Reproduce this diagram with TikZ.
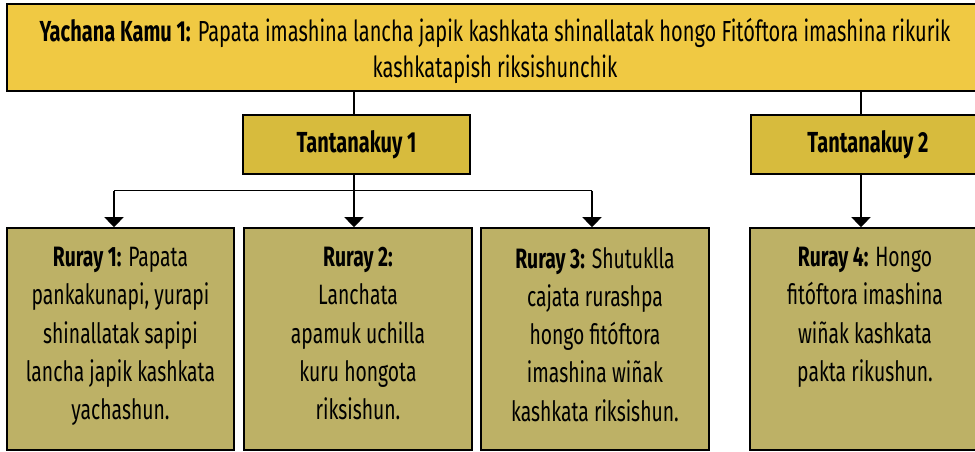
\documentclass[tikz,border=0pt]{standalone}
\usepackage{fontspec}
\setmainfont[FakeStretch=0.69]{Fira Sans}
\usetikzlibrary{arrows.meta}
\definecolor{topfill}{HTML}{F0C943}
\definecolor{midfill}{HTML}{D7BB3D}
\definecolor{lowfill}{HTML}{BDB166}
\begin{document}
\begin{tikzpicture}[x=1pt,y=-1pt,
  boxstyle/.style={draw=black,line width=1.6pt,rectangle,inner sep=0pt},
  topbox/.style={boxstyle,fill=topfill,minimum width=978pt,minimum height=87pt},
  toptext/.style={align=center,inner sep=0pt,font=\fontsize{29}{36}\selectfont},
  midbox/.style={boxstyle,fill=midfill,minimum height=59pt,font=\fontsize{29}{35}\selectfont\bfseries},
  lowbox/.style={boxstyle,fill=lowfill,minimum height=222pt},
  lowtext/.style={anchor=north,align=center,inner sep=0pt,font=\fontsize{28}{38.2}\selectfont},
  conn/.style={line width=1.6pt,draw=black},
  arr/.style={conn,-{Triangle[width=19pt,length=10pt]}}]
\useasboundingbox (0,0) rectangle (975,451);
\node[topbox] (top) at (496,47.5) {};
\node[toptext] (topt) at (495,50.5) {\textbf{Yachana Kamu 1:} Papata imashina lancha japik kashkata shinallatak hongo Fitóftora imashina rikurik\\kashkatapish riksishunchik};
\node[midbox,minimum width=227pt] (t1) at (356.5,144.5) {Tantanakuy 1};
\node[midbox,minimum width=234pt] (t2) at (868,144.5) {Tantanakuy 2};
\node[lowbox,minimum width=227pt] (r1) at (120.5,339) {};
\node[lowbox,minimum width=228pt] (r2) at (358,339) {};
\node[lowbox,minimum width=228pt] (r3) at (595,339) {};
\node[lowbox,minimum width=235pt] (r4) at (867.5,339) {};
\node[lowtext] (r1t) at (120.5,247) {\textbf{Ruray 1:} Papata\\pankakunapi, yurapi\\shinallatak sapipi\\lancha japik kashkata\\yachashun.};
\node[lowtext] (r2t) at (358,247) {\textbf{Ruray 2:}\\Lanchata\\apamuk uchilla\\kuru hongota\\riksishun.};
\node[lowtext] (r3t) at (595,247) {\textbf{Ruray 3:} Shutuklla\\cajata rurashpa\\hongo fitóftora\\imashina wiñak\\kashkata riksishun.};
\node[lowtext] (r4t) at (865,247) {\textbf{Ruray 4:} Hongo\\fitóftora imashina\\wiñak kashkata\\pakta rikushun.};
\coordinate (busl) at (114,190.5);
\coordinate (busm) at (354,190.5);
\coordinate (busr) at (592,190.5);
\draw[conn] (top.south -| busm) -- (t1.north -| busm);
\draw[conn] (top.south -| 861,0) -- (t2.north -| 861,0);
\draw[conn] (t1.south -| busm) -- (busm);
\draw[conn] (busl) -- (busr);
\draw[arr] (busl) -- (r1.north -| busl);
\draw[arr] (busm) -- (r2.north -| busm);
\draw[arr] (busr) -- (r3.north -| busr);
\draw[arr] (t2.south -| 861,0) -- (r4.north -| 861,0);
\end{tikzpicture}
\end{document}
